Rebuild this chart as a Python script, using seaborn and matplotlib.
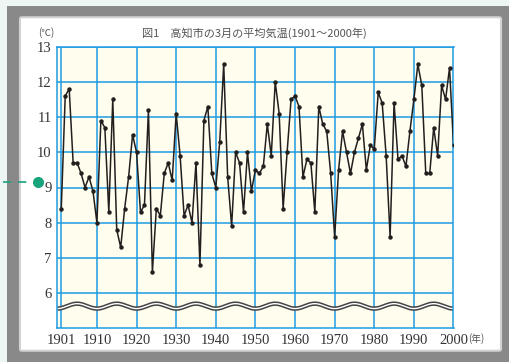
import matplotlib.pyplot as plt
import matplotlib.patches as mpatches
from matplotlib.lines import Line2D
import numpy as np
import pandas as pd
import seaborn as sns

# March mean temperature in Kochi, 1901-2000
years = list(range(1901, 2001))
temps = [
    8.4, 11.6, 11.8, 9.7, 9.7, 9.4, 9.0, 9.3, 8.9, 8.0,      # 1901-1910
    10.9, 10.7, 8.3, 11.5, 7.8, 7.3, 8.4, 9.3, 10.5, 10.0,   # 1911-1920
    8.3, 8.5, 11.2, 6.6, 8.4, 8.2, 9.4, 9.7, 9.2, 11.1,      # 1921-1930
    9.9, 8.2, 8.5, 8.0, 9.7, 6.8, 10.9, 11.3, 9.4, 9.0,      # 1931-1940
    10.3, 12.5, 9.3, 7.9, 10.0, 9.7, 8.3, 10.0, 8.9, 9.5,    # 1941-1950
    9.4, 9.6, 10.8, 9.9, 12.0, 11.1, 8.4, 10.0, 11.5, 11.6,  # 1951-1960
    11.3, 9.3, 9.8, 9.7, 8.3, 11.3, 10.8, 10.6, 9.4, 7.6,    # 1961-1970
    9.5, 10.6, 10.0, 9.4, 10.0, 10.4, 10.8, 9.5, 10.2, 10.1, # 1971-1980
    11.7, 11.4, 9.9, 7.6, 11.4, 9.8, 9.9, 9.6, 10.6, 11.5,   # 1981-1990
    12.5, 11.9, 9.4, 9.4, 10.7, 9.9, 11.9, 11.5, 12.4, 10.2, # 1991-2000
]
x_ticks = [1901, 1910, 1920, 1930, 1940, 1950, 1960, 1970, 1980, 1990, 2000]
y_ticks = [6, 7, 8, 9, 10, 11, 12, 13]

df = pd.DataFrame({'year': years, 'temp': temps})

sns.set_style('white')
plt.rcParams['font.family'] = ['Noto Sans CJK JP', 'DejaVu Sans']

W, H = 510, 362
fig = plt.figure(figsize=(W / 100, H / 100), dpi=100)
fig.patch.set_facecolor('#eef6f4')

# grey frame and white card
fig.add_artist(mpatches.Rectangle((7 / W, 0), 1, 1 - 6 / H, transform=fig.transFigure,
                                  facecolor='#898989', edgecolor='none', zorder=0))
fig.add_artist(mpatches.FancyBboxPatch((21 / W, 12 / H), 479 / W, 332 / H,
                                       boxstyle='round,pad=0.002,rounding_size=0.004',
                                       transform=fig.transFigure, facecolor='white',
                                       edgecolor='#d2d2d2', linewidth=1.5, zorder=0))

ax = fig.add_axes([57.3 / W, 33.7 / H, (453.5 - 57.3) / W, (328.3 - 46.7) / H])
ax.set_facecolor('#fffdee')

grid_c = '#1f9be0'
for x in x_ticks:
    ax.axvline(x, color=grid_c, lw=1.1, zorder=1)
for y in y_ticks:
    ax.axhline(y, color=grid_c, lw=1.1, zorder=1)

sns.lineplot(data=df, x='year', y='temp', ax=ax, color='#231f1f', linewidth=1.1,
             marker='o', markersize=3.2, markeredgewidth=0, zorder=3)

# axis break wave
wx = np.linspace(1900, 2000, 800)
wy = 5.63 - 0.07 * np.cos((wx - 1900) * 2 * np.pi / 10)
ax.plot(wx, wy, color='#444444', lw=3.2, zorder=2, solid_capstyle='butt')
ax.plot(wx, wy, color='white', lw=1.0, zorder=2)

ax.set_xlim(1900, 2000)
ax.set_ylim(5, 13)
ax.set_xticks(x_ticks)
ax.set_yticks(y_ticks)
ax.tick_params(length=0, pad=4, labelsize=10.5, labelcolor='#333333')
for lab in ax.get_xticklabels() + ax.get_yticklabels():
    lab.set_family(['Liberation Serif'])
ax.set_xlabel('')
ax.set_ylabel('')
for side, sp in ax.spines.items():
    sp.set_color(grid_c)
    sp.set_linewidth(1.1)

fig.text(254 / W, 1 - 33 / H, '図1　高知市の3月の平均気温(1901〜2000年)', ha='center', va='center',
         fontsize=8, color='#555555')
fig.text(46 / W, 1 - 33 / H, '(℃)', ha='center', va='center', fontsize=7, color='#555555')
fig.text(476 / W, 1 - 339 / H, '(年)', ha='center', va='center', fontsize=7, color='#555555')

# green marker on the left edge
fig.add_artist(Line2D([3 / W, 27 / W], [1 - 182 / H, 1 - 182 / H], transform=fig.transFigure,
                      color='#17a37c', lw=1.2, linestyle=(0, (5, 4))))
fig.add_artist(Line2D([38 / W], [1 - 182 / H], transform=fig.transFigure,
                      marker='o', markersize=8, color='#17a37c', markeredgewidth=0))

fig.savefig('out.png', dpi=100, facecolor=fig.get_facecolor())
